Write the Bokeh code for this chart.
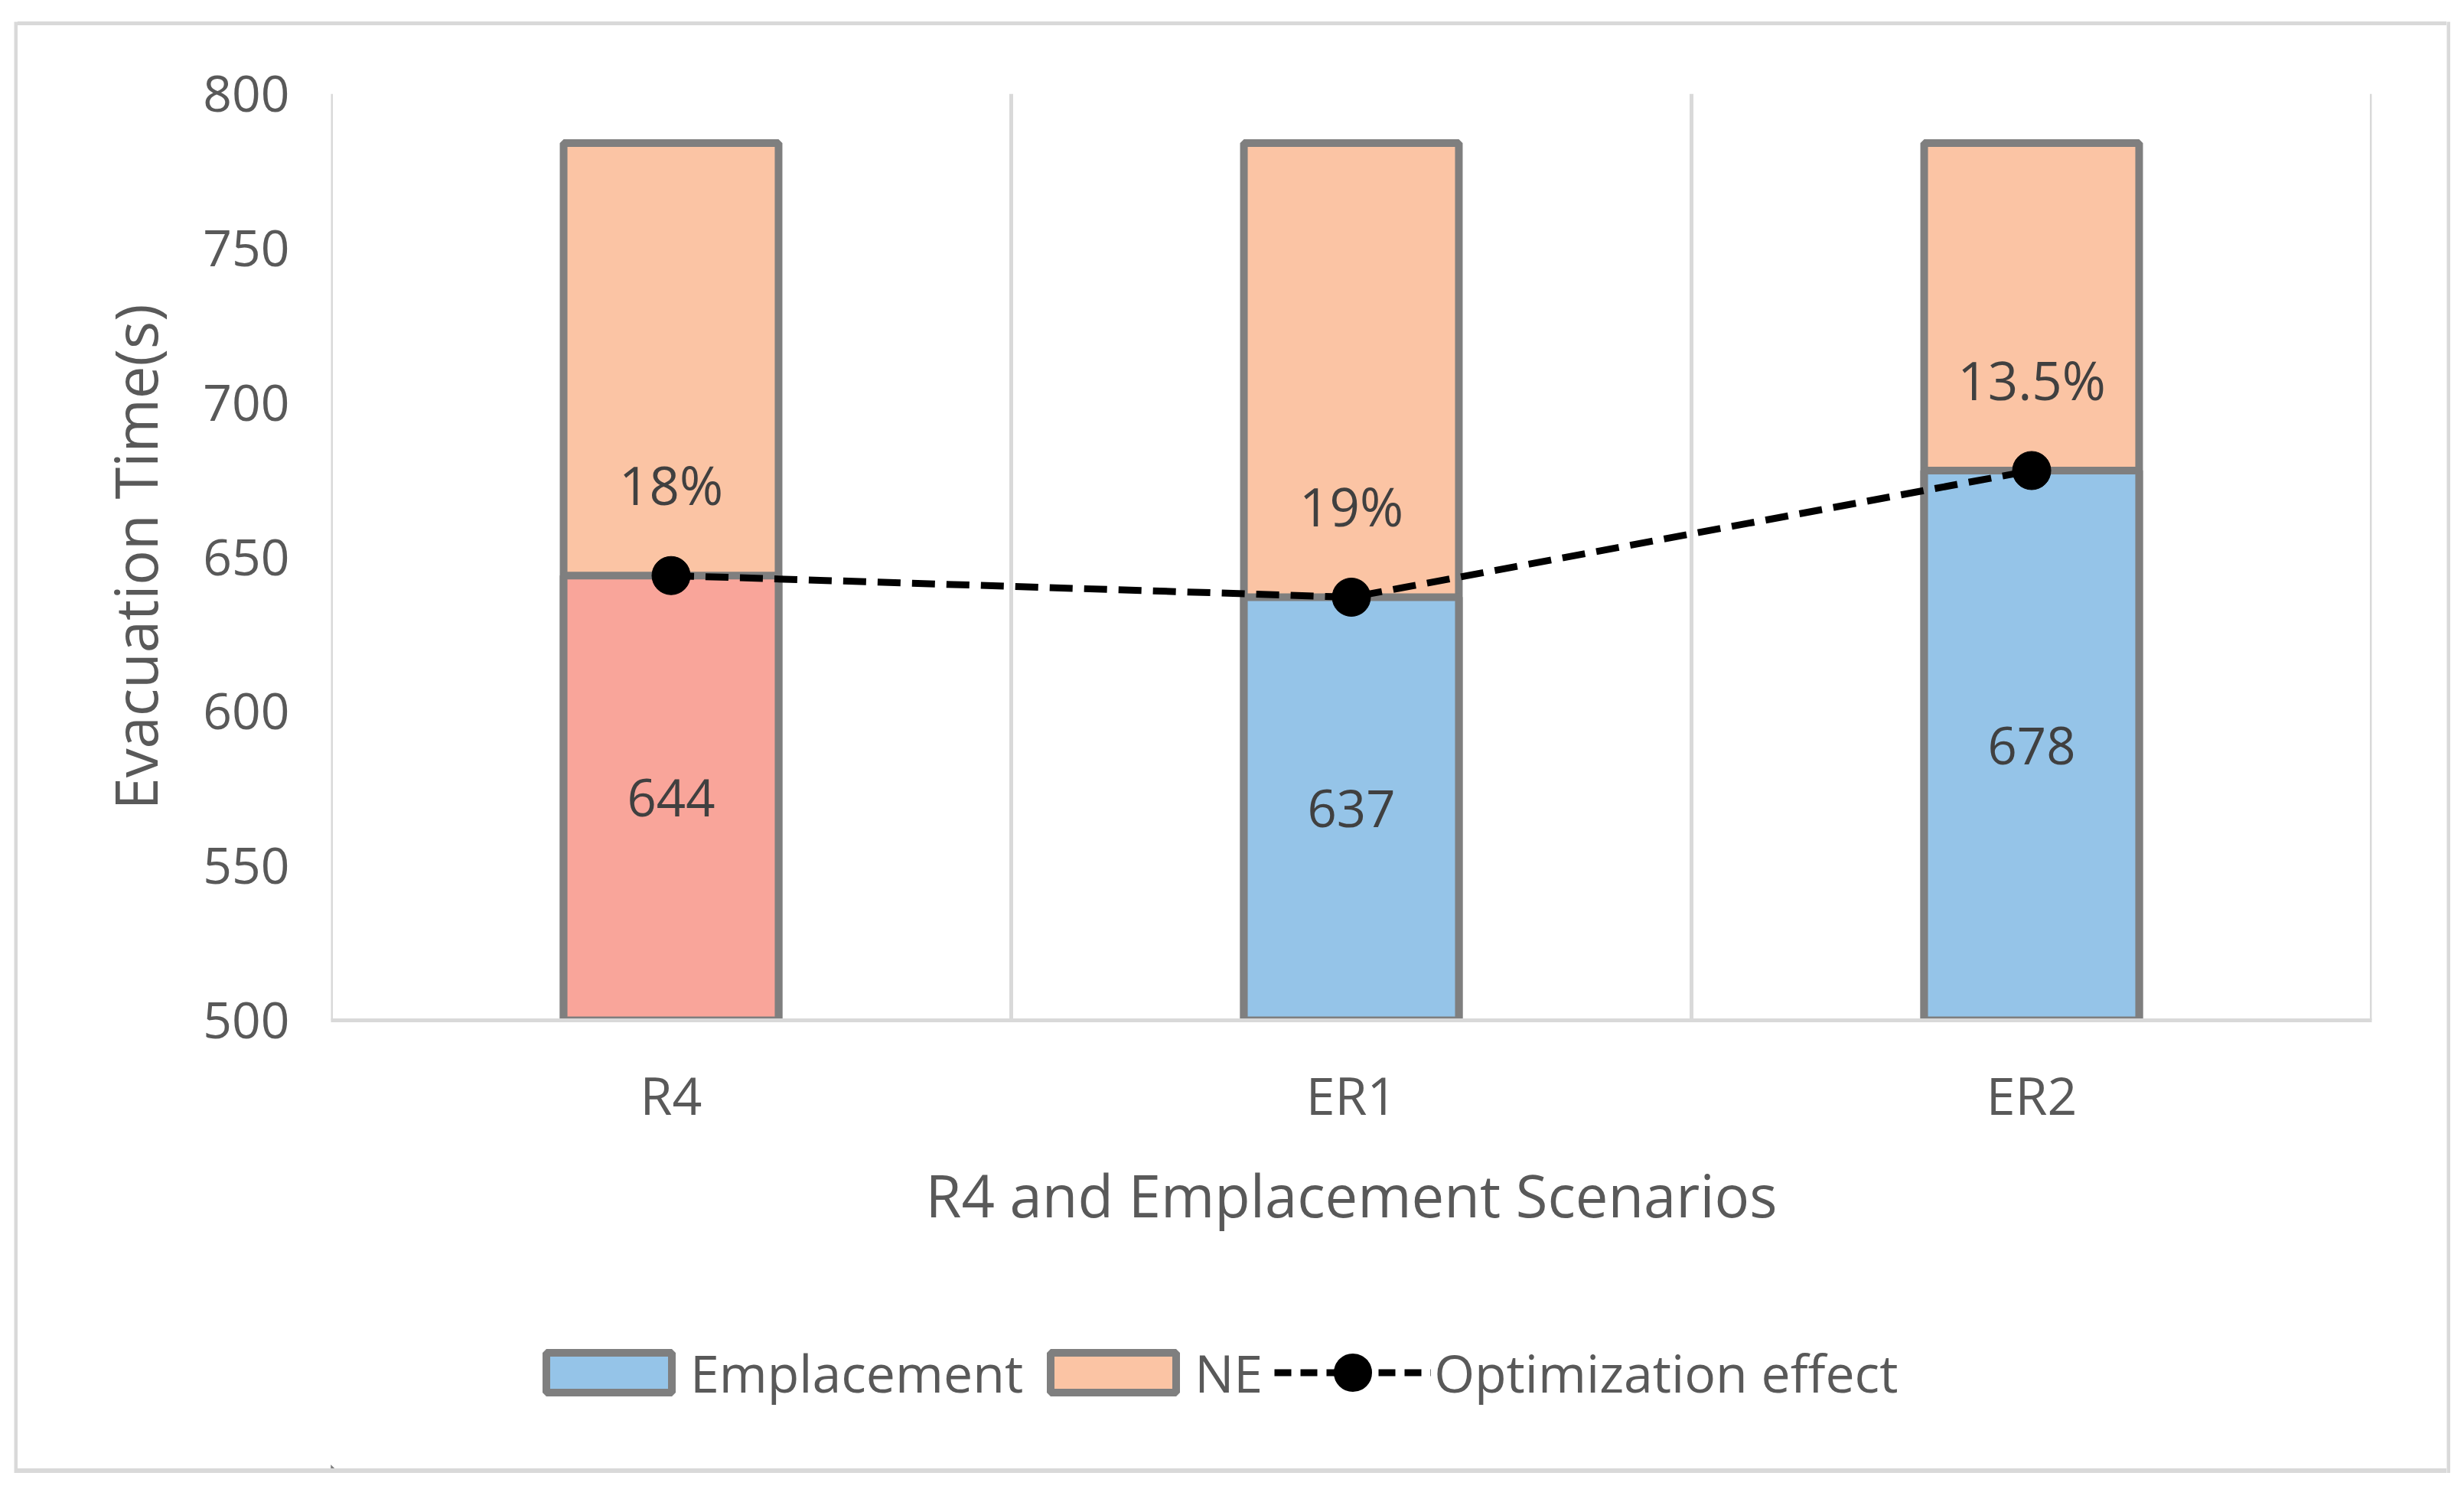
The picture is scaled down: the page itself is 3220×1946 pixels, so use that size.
from bokeh.plotting import figure
from bokeh.layouts import column, row
from bokeh.models import (FactorRange, Range1d, Span, Legend, LegendItem,
                          ColumnDataSource, Spacer)
from bokeh.core.properties import value
from bokeh.embed import file_html
from bokeh.resources import INLINE

# ---- data ----
scenarios = ["R4", "ER1", "ER2"]
emplacement = [644, 637, 678]
ne_total = [784, 784, 784]
optimization = [644, 637, 678]
percent_labels = ["18%", "19%", "13.5%"]
emp_labels = ["644", "637", "678"]
y_ticks = [500, 550, 600, 650, 700, 750, 800]
legend_labels = ["Emplacement", "NE", "Optimization effect"]

# ---- styles ----
emp_colors = ["#F9A59A", "#95C4E8", "#95C4E8"]
EMP_KEY = "#95C4E8"
NE_COLOR = "#FBC4A4"
EDGE = "#7F7F7F"
GRID = "#D9D9D9"
TXT = "#595959"
FONT = "Open Sans"

INNER_W = 3174
MAIN_H = 1647
LEG_H = 239
BL, BR = 409, 98   # left / right borders of the plot area

p = figure(width=INNER_W, height=MAIN_H, output_backend="svg", toolbar_location=None,
           x_range=FactorRange(factors=scenarios, range_padding=0),
           y_range=Range1d(500, 800),
           min_border_left=BL, min_border_right=BR,
           min_border_top=89, min_border_bottom=347,
           background_fill_color="white", border_fill_color="white")
p.outline_line_color = None
p.xgrid.grid_line_color = None
p.ygrid.grid_line_color = None

# category boundary grid lines
for b in range(len(scenarios) + 1):
    p.add_layout(Span(location=b, dimension="height", line_color=GRID, line_width=5))

base = [500] * len(scenarios)
src = ColumnDataSource(dict(x=scenarios, emp=emplacement, ne=ne_total, base=base,
                            col=emp_colors, opt=optimization,
                            emp_mid=[(b + e) / 2 for b, e in zip(base, emplacement)],
                            pct_y=[o + 29.5 for o in optimization],
                            pct=percent_labels, empl=emp_labels))

p.vbar(x="x", top="ne", bottom="base", width=0.316, source=src,
       fill_color=NE_COLOR, line_color=EDGE, line_width=10)
p.vbar(x="x", top="emp", bottom="base", width=0.316, source=src,
       fill_color="col", line_color=EDGE, line_width=10)
p.line(x="x", y="opt", source=src, line_color="black", line_width=9,
       line_dash="30 15")
p.scatter(x="x", y="opt", source=src, size=50, marker="circle",
          fill_color="black", line_color="black")

p.text(x="x", y="emp_mid", text="empl", source=src, text_align="center",
       text_baseline="middle", text_font=value(FONT), text_font_size="67px",
       text_color="#404040")
p.text(x="x", y="pct_y", text="pct", source=src, text_align="center",
       text_baseline="middle", text_font=value(FONT), text_font_size="69px",
       text_color="#404040")

# axes
p.yaxis.ticker = y_ticks
p.yaxis.axis_line_color = None
p.yaxis.major_tick_line_color = None
p.yaxis.minor_tick_line_color = None
p.yaxis.major_label_standoff = 48
p.yaxis.major_label_text_font = FONT
p.yaxis.major_label_text_font_size = "66px"
p.yaxis.major_label_text_color = TXT
p.yaxis.axis_label = "Evacuation Time(s)"
p.yaxis.axis_label_text_font = FONT
p.yaxis.axis_label_text_font_size = "76px"
p.yaxis.axis_label_text_font_style = "normal"
p.yaxis.axis_label_text_color = TXT
p.yaxis.axis_label_standoff = 34

p.xaxis.axis_line_color = GRID
p.xaxis.axis_line_width = 5
p.xaxis.major_tick_line_color = None
p.xaxis.minor_tick_line_color = None
p.xaxis.major_label_standoff = 44
p.xaxis.major_label_text_font = FONT
p.xaxis.major_label_text_font_size = "68px"
p.xaxis.major_label_text_color = TXT
p.xaxis.axis_label = "R4 and Emplacement Scenarios"
p.xaxis.axis_label_text_font = FONT
p.xaxis.axis_label_text_font_size = "76px"
p.xaxis.axis_label_text_font_style = "normal"
p.xaxis.axis_label_text_color = TXT
p.xaxis.axis_label_standoff = 30

# ---- legend strip (same glyph styles as the chart; key glyphs kept out of view) ----
lf = figure(width=INNER_W, height=LEG_H, output_backend="svg", toolbar_location=None,
            x_range=Range1d(0, 1), y_range=Range1d(0, 1),
            x_axis_type=None, y_axis_type=None,
            min_border_left=BL, min_border_right=BR, min_border_top=0, min_border_bottom=0,
            background_fill_color="white", border_fill_color="white")
lf.outline_line_color = None
off = [-5]
k_emp = lf.vbar(x=off, top=off, bottom=off, width=0.3, fill_color=EMP_KEY,
                line_color=EDGE, line_width=10)
k_ne = lf.vbar(x=off, top=off, bottom=off, width=0.3, fill_color=NE_COLOR,
               line_color=EDGE, line_width=10)
k_line = lf.line(x=off * 2, y=off * 2, line_color="black", line_width=9, line_dash="22 12")
k_pts = lf.scatter(x=off, y=off, size=50, marker="circle", fill_color="black",
                   line_color="black", line_width=24)

legend = Legend(items=[
    LegendItem(label=legend_labels[0], renderers=[k_emp]),
    LegendItem(label=legend_labels[1], renderers=[k_ne]),
    LegendItem(label=legend_labels[2], renderers=[k_line, k_pts]),
], orientation="horizontal", location=(261, 79),
    glyph_width=205, glyph_height=65, label_standoff=4, spacing=15,
    padding=0, margin=0, border_line_color=None, background_fill_alpha=0,
    label_text_font=FONT, label_text_font_size="68px", label_text_color=TXT)
lf.add_layout(legend, "center")

# ---- thin chart-area border ----
def vstrip(h):
    s = figure(width=5, height=h, output_backend="svg", toolbar_location=None,
               x_range=Range1d(0, 1), y_range=Range1d(0, 1),
               x_axis_type=None, y_axis_type=None, min_border=0,
               background_fill_color=GRID, border_fill_color=GRID)
    s.outline_line_color = None
    return s

def hstrip(h):
    return Spacer(width=INNER_W, height=h, styles={"background-color": GRID})

layout = row(
    vstrip(MAIN_H + LEG_H + 11),
    column(hstrip(5), p, lf, hstrip(6)),
    vstrip(MAIN_H + LEG_H + 11),
)
layout.margin = (28, 0, 0, 18)

open("out.html", "w").write(file_html(layout, INLINE))
